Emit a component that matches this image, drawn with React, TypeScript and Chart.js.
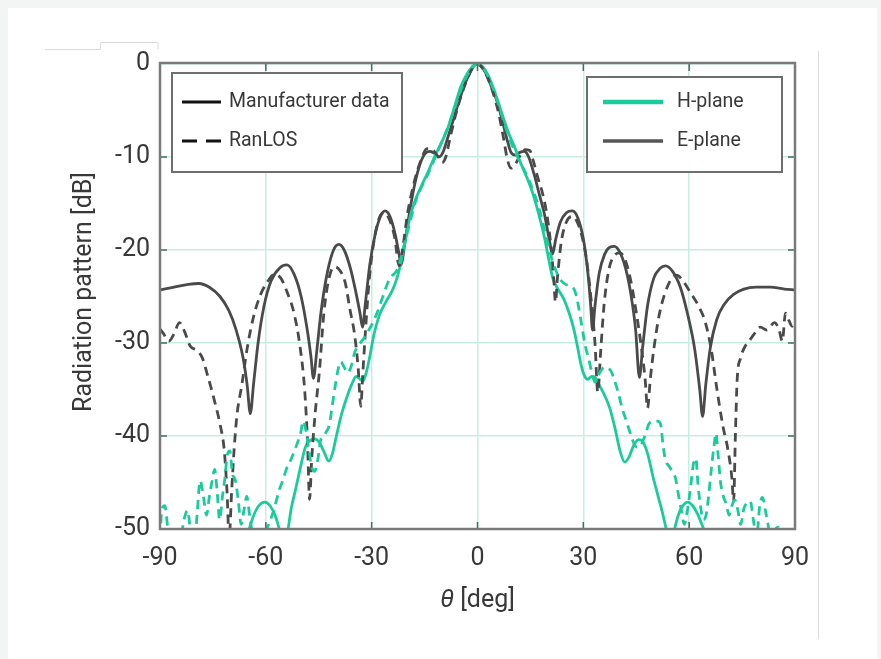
import React, { useEffect, useRef } from 'react';
import { Chart, registerables } from 'chart.js';

Chart.register(...registerables);

// ---------- data ----------
const xTickValues = [-90, -60, -30, 0, 30, 60, 90];
const yTickValues = [0, -10, -20, -30, -40, -50];

const ePlaneMfrAngles = [-90, -86, -82, -79, -76, -73, -70.5, -68.5, -66.5, -65.3, -64.4, -63.5, -62.2, -60.5, -58.5, -56, -54, -52, -50, -48.3, -47.2, -46.5, -45.6, -44.3, -42.5, -40.8, -39.3, -37.8, -36, -34.5, -33.3, -32.6, -31.8, -30.5, -29, -27.5, -26.2, -24.8, -23.4, -22.3, -21.6, -20.8, -19.5, -18, -16.5, -15, -13.5, -12.2, -11, -9.8, -8.5, -7, -5.5, -4, -2.5, -1, 0,
  1, 2.5, 4, 5.7, 7.3, 8.5, 9.5, 10.8, 12, 13.3, 14.5, 16, 17.5, 19, 20.3, 21.3, 22.2, 23.5, 25.2, 26.9, 28.5, 30, 31.3, 32.1, 32.6, 33.3, 34.5, 36, 37.5, 38.8, 40.3, 42, 43.5, 44.8, 45.9, 46.8, 48.2, 50, 51.7, 53.3, 55.3, 57.5, 59.5, 61.5, 63, 63.8, 64.7, 66, 67.8, 70, 72.5, 75.5, 79, 83, 87, 90];
const ePlaneMfrValues = [-24.3, -24.0, -23.7, -23.6, -24.0, -25.0, -26.5, -28.5, -31.5, -34.5, -37.6, -34.5, -30.0, -26.0, -23.3, -21.9, -21.6, -22.6, -25.0, -28.5, -31.5, -33.8, -31.0, -26.5, -22.3, -20.0, -19.4, -20.0, -22.0, -24.5, -26.8, -28.3, -25.8, -21.5, -18.3, -16.4, -15.8, -16.4, -18.2, -20.3, -21.6, -19.8, -16.5, -13.3, -11.0, -9.7, -9.4, -9.6, -10.0, -9.5, -8.0, -6.2, -4.3, -2.6, -1.2, -0.2, 0,
  -0.2, -1.1, -2.5, -4.2, -6.5, -8.3, -9.5, -9.8, -9.5, -9.4, -10.0, -11.8, -14.0, -16.2, -18.8, -20.4, -18.8, -17.0, -16.0, -15.8, -16.6, -18.8, -22.5, -26.0, -28.6, -26.0, -22.5, -20.5, -19.7, -19.6, -20.2, -22.0, -24.8, -28.5, -33.7, -30.5, -26.0, -23.0, -22.0, -21.7, -22.3, -24.0, -26.8, -30.5, -35.0, -37.9, -34.5, -30.5, -27.5, -25.8, -24.8, -24.2, -24.0, -24.0, -24.2, -24.3];

const ePlaneRanlosAngles = [-90, -89, -87.5, -86, -84.5, -83, -81.5, -79.5, -78, -76.5, -74.5, -73, -71.8, -71, -70.4, -69.7, -69, -68.2, -66.8, -65.3, -63.5, -61.5, -59.5, -57.5, -55.8, -54, -52, -50.3, -49, -48.2, -47.6, -47, -46, -44.8, -43.6, -42.2, -40.6, -39, -37.5, -36.2, -34.8, -33.8, -33.1, -32.5, -31.6, -30.6, -29.2, -27.8, -26.5, -25, -23.5, -22.2, -21.2, -19.8, -18, -16, -14.3, -12.8, -11.3, -10, -9, -7.8, -6.3, -4.8, -3.3, -1.8, 0,
  1.5, 3, 4.5, 6, 7.3, 8.5, 9.5, 10.5, 12, 13.5, 14.8, 15.8, 17, 18.5, 19.8, 20.8, 21.6, 22.1, 22.7, 23.8, 25.3, 27, 28.5, 29.8, 31, 32.2, 33.3, 34.1, 34.9, 35.9, 37.3, 38.8, 40.4, 42, 43.5, 45, 46.4, 47.5, 48.2, 49, 50, 51.5, 53, 54.8, 56.5, 58.2, 60.4, 62.5, 64.6, 66.3, 67.8, 69.5, 71, 72.1, 72.6, 73.1, 73.6, 74.6, 75.8, 77, 78.5, 80.2, 82, 84.2, 85.5, 86.4, 87.3, 88.3, 89.2, 90];
const ePlaneRanlosValues = [-28.5, -29.0, -29.8, -29.0, -27.8, -28.8, -30.3, -30.8, -31.6, -33.5, -36.3, -38.7, -41.5, -46.0, -51.0, -46.0, -41.5, -37.8, -34.5, -30.6, -27.2, -24.8, -23.4, -22.6, -23.0, -24.5, -26.8, -30.4, -35.0, -40.5, -46.8, -42.5, -37.5, -33.0, -27.0, -23.2, -21.8, -22.2, -23.5, -26.3, -29.2, -32.8, -36.8, -33.2, -27.8, -22.8, -18.7, -16.5, -16.0, -16.7, -18.6, -21.7, -19.8, -16.0, -12.8, -10.3, -9.1, -9.2, -9.9, -10.6, -10.0, -8.0, -5.6, -3.6, -2.0, -0.7, 0,
  -0.5, -1.6, -3.2, -5.3, -7.8, -10.3, -11.2, -10.9, -9.9, -9.2, -9.3, -10.4, -12.1, -14.0, -16.5, -19.5, -23.0, -25.6, -22.8, -19.0, -16.9, -16.4, -17.2, -18.8, -21.3, -25.3, -30.0, -35.3, -31.0, -25.8, -22.0, -20.6, -20.3, -21.2, -23.4, -26.7, -30.3, -33.8, -37.0, -33.8, -30.6, -27.0, -24.8, -23.2, -22.7, -23.3, -24.6, -25.9, -27.8, -30.8, -34.8, -38.8, -41.5, -44.5, -47.0, -40.0, -34.0, -31.6, -30.4, -29.8, -29.0, -28.3, -28.6, -27.8, -28.6, -29.8, -26.8, -27.6, -28.2, -27.8];

const hPlaneMfrAngles = [-90, -70, -66.5, -65, -63.5, -62, -60.3, -58.8, -57.3, -56, -55, -54.2, -53.6, -52.8, -51.6, -50.2, -48.8, -47.5, -46.2, -44.8, -43.4, -42.2, -41.2, -40, -38.5, -37, -35.6, -34.4, -33.3, -32.5, -31.7, -30.6, -29.3, -27.8, -26, -24.2, -22.8, -21.8, -20.6, -19.2, -17.9, -16, -14, -12.2, -10.3, -8.5, -6.5, -4.8, -3, -1.5, 0,
  1.5, 3, 4.3, 5.7, 7.5, 9, 10.5, 12.3, 14.2, 16, 17.6, 19, 20.2, 21.3, 22.8, 24.5, 26, 27.3, 28.4, 29.4, 30.3, 31.3, 32.3, 33.3, 34.6, 36, 37.5, 39, 40.4, 41.7, 42.9, 44.3, 45.7, 47, 48.3, 49.7, 51, 52.4, 53.6, 54.5, 55.3, 56, 57.2, 58.4, 59.6, 61, 62.4, 63.8, 65.2, 67, 70, 90];
const hPlaneMfrValues = [-56, -56, -53, -50.4, -48.6, -47.5, -47.1, -47.5, -48.6, -50.3, -52, -51.5, -49.8, -47.8, -45.8, -43.4, -41.2, -40.5, -40.3, -40.7, -41.8, -42.7, -42.0, -40.0, -37.6, -35.8, -34.4, -33.6, -33.9, -34.1, -33.4, -31.6, -29.0, -27.0, -25.6, -24.4, -23.0, -21.5, -19.2, -16.6, -14.9, -13.2, -11.6, -10.0, -8.5, -7.0, -4.6, -2.5, -1.1, -0.3, 0,
  -0.3, -1.2, -2.4, -3.9, -6.0, -7.6, -8.9, -10.7, -12.4, -14.3, -16.5, -18.7, -21.0, -23.0, -24.2, -25.3, -26.8, -28.5, -30.5, -32.4, -33.5, -33.9, -33.6, -33.7, -34.6, -35.6, -37.0, -39.2, -41.6, -42.8, -42.3, -41.0, -40.4, -40.7, -42.0, -44.3, -46.2, -48.2, -50.2, -51.8, -51.2, -49.8, -48.2, -47.4, -47.1, -47.5, -48.4, -49.7, -51, -53, -56, -56];

const hPlaneRanlosAngles = [-90, -89.5, -88.6, -87.8, -87, -86, -85, -84.2, -83.2, -82.2, -81.3, -80.5, -79.5, -78.6, -77.7, -76.8, -76, -75.2, -74.5, -73.8, -73.1, -72.3, -71.6, -70.9, -70.2, -69.5, -68.6, -67.8, -67, -66.2, -65.4, -64.6, -63.8, -62.8, -61.6, -60.5, -59.3, -58.2, -57.2, -56.2, -55.2, -54.2, -53.2, -52.2, -51.2, -50.2, -49.4, -48.6, -47.8, -47, -46.2, -45.3, -44.5, -43.6, -42.8, -42, -41.2, -40.4, -39.6, -38.8, -37.8, -36.8, -35.8, -34.8, -33.6, -32.2, -30.8, -29.4, -28.3, -27, -25.5, -24.3, -23, -21.8, -20.5, -19, -17.5, -16.2, -14.5, -12.5, -10.5, -8.5, -6.5, -4.8, -3.2, -1.6, 0,
  1.6, 3.2, 4.8, 6.5, 8.3, 10, 12, 14, 15.8, 17.5, 19, 20.5, 22, 23.5, 25, 26.5, 27.6, 28.5, 29.5, 30.5, 31.7, 32.6, 33.3, 34.2, 35.3, 36.5, 37.8, 38.8, 39.8, 41, 42.2, 43.4, 44.6, 45.6, 46.6, 47.6, 48.6, 49.8, 51, 51.9, 52.6, 53.3, 54.2, 55.2, 56.1, 57, 57.8, 58.6, 59.5, 60.4, 61.2, 61.9, 62.5, 63.2, 64, 64.8, 65.5, 66.3, 67, 67.6, 68.2, 68.9, 69.7, 70.5, 71.3, 72.1, 73, 73.8, 74.6, 75.5, 76.4, 77.3, 78.2, 79.1, 80, 80.8, 81.6, 82.4, 83.2, 84.2, 85.2, 86.1, 87, 88, 89, 90];
const hPlaneRanlosValues = [-51, -48, -47.5, -50, -53, -51.5, -50.5, -51, -49, -48.0, -50.5, -53, -48.5, -44.8, -46.5, -48.5, -46.5, -44.8, -43.6, -46, -49, -46.5, -44.5, -42.0, -41.6, -44, -44.8, -47, -49.5, -48, -46.5, -48.5, -50.5, -52, -51.5, -50.8, -49.6, -48.5, -47.2, -45.8, -44.8, -43.6, -42.8, -41.9, -40.9, -39.8, -38.4, -39.5, -41.5, -43.3, -43.8, -42.6, -40.5, -40.0, -39.5, -38.8, -36.8, -34.8, -33.0, -32.0, -32.6, -33.2, -32.5, -31.0, -30.2, -29.5, -28.6, -27.6, -26.6, -25.2, -23.6, -22.8, -22.3, -21.0, -19.0, -16.8, -14.7, -13.5, -12.2, -10.5, -8.7, -6.9, -4.8, -2.9, -1.4, -0.4, 0,
  -0.4, -1.5, -3.0, -5.0, -7.2, -8.9, -10.5, -12.0, -13.6, -15.6, -17.8, -20.2, -22.0, -23.2, -23.7, -23.9, -24.4, -25.8, -28.0, -30.2, -32.0, -33.5, -34.2, -33.5, -32.8, -32.6, -33.0, -34.0, -35.2, -37.0, -38.4, -39.8, -41.0, -41.2, -40.8, -39.8, -38.7, -38.4, -38.4, -38.7, -41.0, -42.6, -43.2, -43.8, -44.5, -46.4, -48, -49.5, -48, -45.5, -43.0, -42.4, -45.2, -47.5, -49, -48.5, -46.5, -43.5, -41.2, -39.7, -42, -45, -46.5, -47.3, -48.5, -47.5, -46.9, -48, -49.5, -47.8, -47.2, -47.0, -49, -51, -47.5, -46.6, -48, -49.6, -51.5, -50.2, -49.8, -51.5, -50.5, -49.8, -51, -50];

// ---------- styles ----------
const GREEN = '#1ccb9c';
const GRAY = '#4a4a4a';
const GRID = '#c6efdf';
const FRAME = '#7a7a7a';
const TEXT = '#383838';
const FONT = 'Roboto';

const zip = (xs: number[], ys: number[]) => xs.map((x, i) => ({ x, y: ys[i] }));

const decorPlugin = {
  id: 'decor',
  beforeDraw(chart: any) {
    const { ctx, width, height } = chart;
    ctx.save();
    ctx.fillStyle = '#f3f5f5';
    ctx.fillRect(0, 0, width, height);
    ctx.fillStyle = '#ffffff';
    ctx.fillRect(8, 8, 869, height - 8);
    // faint scan lines of the original page
    ctx.strokeStyle = '#dcdcdc';
    ctx.lineWidth = 1;
    ctx.beginPath();
    ctx.moveTo(45, 49.5);
    ctx.lineTo(100.5, 49.5);
    ctx.lineTo(100.5, 42.5);
    ctx.lineTo(158, 42.5);
    ctx.lineTo(158, 49);
    ctx.moveTo(818.5, 51);
    ctx.lineTo(818.5, 639);
    ctx.stroke();
    ctx.restore();
  },
  afterDatasetsDraw(chart: any) {
    const { ctx, chartArea: a, scales } = chart;
    const xs = scales.x;
    const ys = scales.y;
    ctx.save();
    // legend boxes
    const drawBox = (x: number, y: number, w: number, h: number) => {
      ctx.fillStyle = '#ffffff';
      ctx.fillRect(x, y, w, h);
      ctx.strokeStyle = '#6e6e6e';
      ctx.lineWidth = 2;
      ctx.strokeRect(x, y, w, h);
    };
    const lx = a.left + 12;
    const ly = a.top + 9;
    drawBox(lx, ly, 230, 99);
    ctx.font = `19.5px ${FONT}`;
    ctx.textBaseline = 'middle';
    ctx.textAlign = 'left';
    ctx.lineCap = 'butt';
    ctx.strokeStyle = '#111111';
    ctx.lineWidth = 3;
    ctx.beginPath();
    ctx.moveTo(lx + 10, ly + 29);
    ctx.lineTo(lx + 49, ly + 29);
    ctx.stroke();
    ctx.setLineDash([15, 9]);
    ctx.beginPath();
    ctx.moveTo(lx + 10, ly + 68);
    ctx.lineTo(lx + 49, ly + 68);
    ctx.stroke();
    ctx.setLineDash([]);
    ctx.fillStyle = TEXT;
    ctx.fillText('Manufacturer data', lx + 57, ly + 29);
    ctx.fillText('RanLOS', lx + 57, ly + 68);

    const rx = a.left + 427;
    const ry = a.top + 13;
    drawBox(rx, ry, 195, 95);
    ctx.strokeStyle = GREEN;
    ctx.lineWidth = 4.5;
    ctx.beginPath();
    ctx.moveTo(rx + 16, ry + 25);
    ctx.lineTo(rx + 76, ry + 25);
    ctx.stroke();
    ctx.strokeStyle = '#555555';
    ctx.lineWidth = 3.5;
    ctx.beginPath();
    ctx.moveTo(rx + 16, ry + 64);
    ctx.lineTo(rx + 76, ry + 64);
    ctx.stroke();
    ctx.fillStyle = TEXT;
    ctx.fillText('H-plane', rx + 90, ry + 25);
    ctx.fillText('E-plane', rx + 90, ry + 64);

    // inner tick marks
    ctx.strokeStyle = '#3f6f5d';
    ctx.lineWidth = 1.5;
    ctx.beginPath();
    xTickValues.slice(1, -1).forEach((v) => {
      const px = xs.getPixelForValue(v);
      ctx.moveTo(px, a.top);
      ctx.lineTo(px, a.top + 7);
      ctx.moveTo(px, a.bottom);
      ctx.lineTo(px, a.bottom - 7);
    });
    yTickValues.slice(1, -1).forEach((v) => {
      const py = ys.getPixelForValue(v);
      ctx.moveTo(a.left, py);
      ctx.lineTo(a.left + 7, py);
      ctx.moveTo(a.right, py);
      ctx.lineTo(a.right - 7, py);
    });
    ctx.stroke();

    // frame
    ctx.strokeStyle = FRAME;
    ctx.lineWidth = 2.5;
    ctx.strokeRect(a.left, a.top - 1, a.right - a.left, a.bottom - a.top + 1);

    // axis titles
    ctx.fillStyle = TEXT;
    ctx.font = `25px ${FONT}`;
    ctx.textAlign = 'center';
    ctx.textBaseline = 'middle';
    ctx.save();
    ctx.translate(85, 292);
    ctx.rotate(-Math.PI / 2);
    ctx.fillText('Radiation pattern [dB]', 0, 0);
    ctx.restore();

    ctx.font = `italic 25px ${FONT}`;
    const th = 'θ';
    const thW = ctx.measureText(th).width;
    ctx.font = `25px ${FONT}`;
    const rest = ' [deg]';
    const restW = ctx.measureText(rest).width;
    const cx = (a.left + a.right) / 2;
    const start = cx - (thW + restW) / 2;
    ctx.textAlign = 'left';
    ctx.font = `italic 25px ${FONT}`;
    ctx.fillText(th, start, 601);
    ctx.font = `25px ${FONT}`;
    ctx.fillText(rest, start + thW, 601);
    ctx.restore();
  },
};

export default function App() {
  const ref = useRef<HTMLCanvasElement | null>(null);
  useEffect(() => {
    if (!ref.current) return;
    const common = { pointRadius: 0, borderWidth: 2.8, fill: false, cubicInterpolationMode: 'monotone' as const };
    const chart = new Chart(ref.current, {
      type: 'line',
      data: {
        datasets: [
          { ...common, label: 'H-plane RanLOS', data: zip(hPlaneRanlosAngles, hPlaneRanlosValues), borderColor: GREEN, borderDash: [9, 6] },
          { ...common, label: 'E-plane RanLOS', data: zip(ePlaneRanlosAngles, ePlaneRanlosValues), borderColor: GRAY, borderDash: [9, 6] },
          { ...common, label: 'H-plane manufacturer', data: zip(hPlaneMfrAngles, hPlaneMfrValues), borderColor: GREEN },
          { ...common, label: 'E-plane manufacturer', data: zip(ePlaneMfrAngles, ePlaneMfrValues), borderColor: GRAY },
        ],
      },
      options: {
        animation: false,
        responsive: false,
        devicePixelRatio: 1,
        layout: { padding: { left: 0, top: 64, right: 86, bottom: 0 } },
        plugins: { legend: { display: false }, tooltip: { enabled: false } },
        scales: {
          x: {
            type: 'linear',
            min: -90,
            max: 90,
            afterFit: (s: any) => { s.height = 130; },
            afterBuildTicks: (s: any) => { s.ticks = xTickValues.map((v) => ({ value: v })); },
            grid: { color: GRID, lineWidth: 1.5, drawTicks: false },
            border: { display: false },
            ticks: { font: { family: FONT, size: 25 }, color: TEXT, padding: 15 },
          },
          y: {
            type: 'linear',
            min: -50,
            max: 0,
            afterFit: (s: any) => { s.width = 160; },
            afterBuildTicks: (s: any) => { s.ticks = yTickValues.map((v) => ({ value: v })); },
            grid: { color: GRID, lineWidth: 1.5, drawTicks: false },
            border: { display: false },
            ticks: { font: { family: FONT, size: 25 }, color: TEXT, padding: 10 },
          },
        },
      },
      plugins: [decorPlugin],
    });
    return () => chart.destroy();
  }, []);
  return (
    <div style={{ position: 'fixed', left: 0, top: 0, width: 881, height: 659 }}>
      <canvas ref={ref} width={881} height={659} style={{ display: 'block' }} />
    </div>
  );
}
